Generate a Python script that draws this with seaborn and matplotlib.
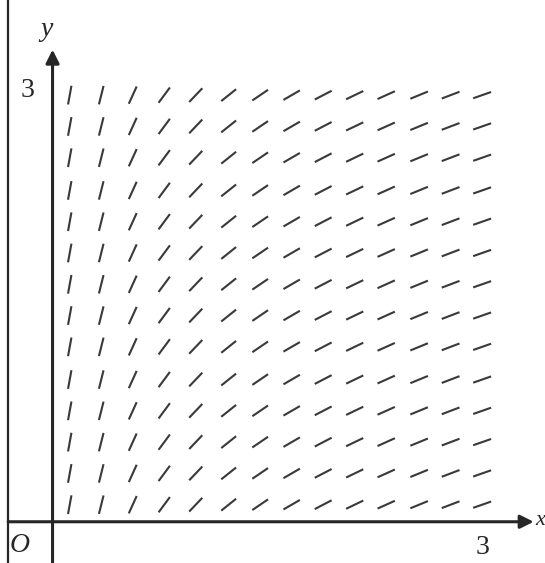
import numpy as np
import pandas as pd
import matplotlib
matplotlib.use("Agg")
import matplotlib.pyplot as plt
import seaborn as sns

# slope field: slopes change only along x
x_cols = [0.12, 0.34, 0.56, 0.78, 1.00, 1.23, 1.45, 1.67, 1.89, 2.11, 2.33, 2.56, 2.78, 3.00]
y_rows = [0.12, 0.34, 0.56, 0.78, 1.00, 1.23, 1.45, 1.67, 1.89, 2.11, 2.33, 2.56, 2.78, 3.00]
slopes = [5.5, 4.0, 2.2, 1.35, 1.05, 0.8, 0.68, 0.58, 0.52, 0.48, 0.45, 0.41, 0.38, 0.35]
tick_x = ["3"]
tick_y = ["3"]

sns.set_theme(style="white")
plt.rcParams["font.family"] = ["Liberation Serif", "DejaVu Serif"]

# table of segment centres
df = pd.DataFrame([(x, y, s) for x, s in zip(x_cols, slopes) for y in y_rows],
                  columns=["x", "y", "slope"])
ang = np.arctan(df["slope"].to_numpy())
seg_len = 19  # pixels

fig = plt.figure(figsize=(5.45, 5.63), dpi=100)
ax = fig.add_axes([0, 0, 1, 1])
ax.set_xlim(-0.367, 3.439)
ax.set_ylim(-0.29, 3.669)
ax.axis("off")

ink = "#262626"
ax.quiver(df["x"], df["y"], seg_len * np.cos(ang), seg_len * np.sin(ang),
          angles="uv", scale_units="dots", scale=1, units="dots", width=2.1,
          headwidth=0, headlength=0, headaxislength=0, pivot="mid", color="#3a3a3a")

# frame line at the left
ax.plot([-0.31, -0.31], [-0.29, 3.669], color=ink, lw=1.6)

# axes with arrow heads
ax.annotate("", xy=(3.36, 0), xytext=(-0.31, 0),
            arrowprops=dict(arrowstyle="-|>", lw=2.2, color=ink, mutation_scale=20,
                            shrinkA=0, shrinkB=0))
ax.annotate("", xy=(0, 3.32), xytext=(0, -0.29),
            arrowprops=dict(arrowstyle="-|>", lw=2.2, color=ink, mutation_scale=20,
                            shrinkA=0, shrinkB=0))

ax.text(-0.04, 3.46, "y", fontsize=20, style="italic", ha="center", va="center", color=ink)
ax.text(3.37, 0.01, "x", fontsize=16, style="italic", ha="left", va="center", color=ink)
ax.text(-0.23, -0.17, "O", fontsize=20, style="italic", ha="center", va="center", color=ink)
ax.text(-0.175, 3.03, tick_y[0], fontsize=20, ha="center", va="center", color=ink)
ax.text(3.005, -0.18, tick_x[0], fontsize=20, ha="center", va="center", color=ink)

fig.savefig("out.png", dpi=100)
